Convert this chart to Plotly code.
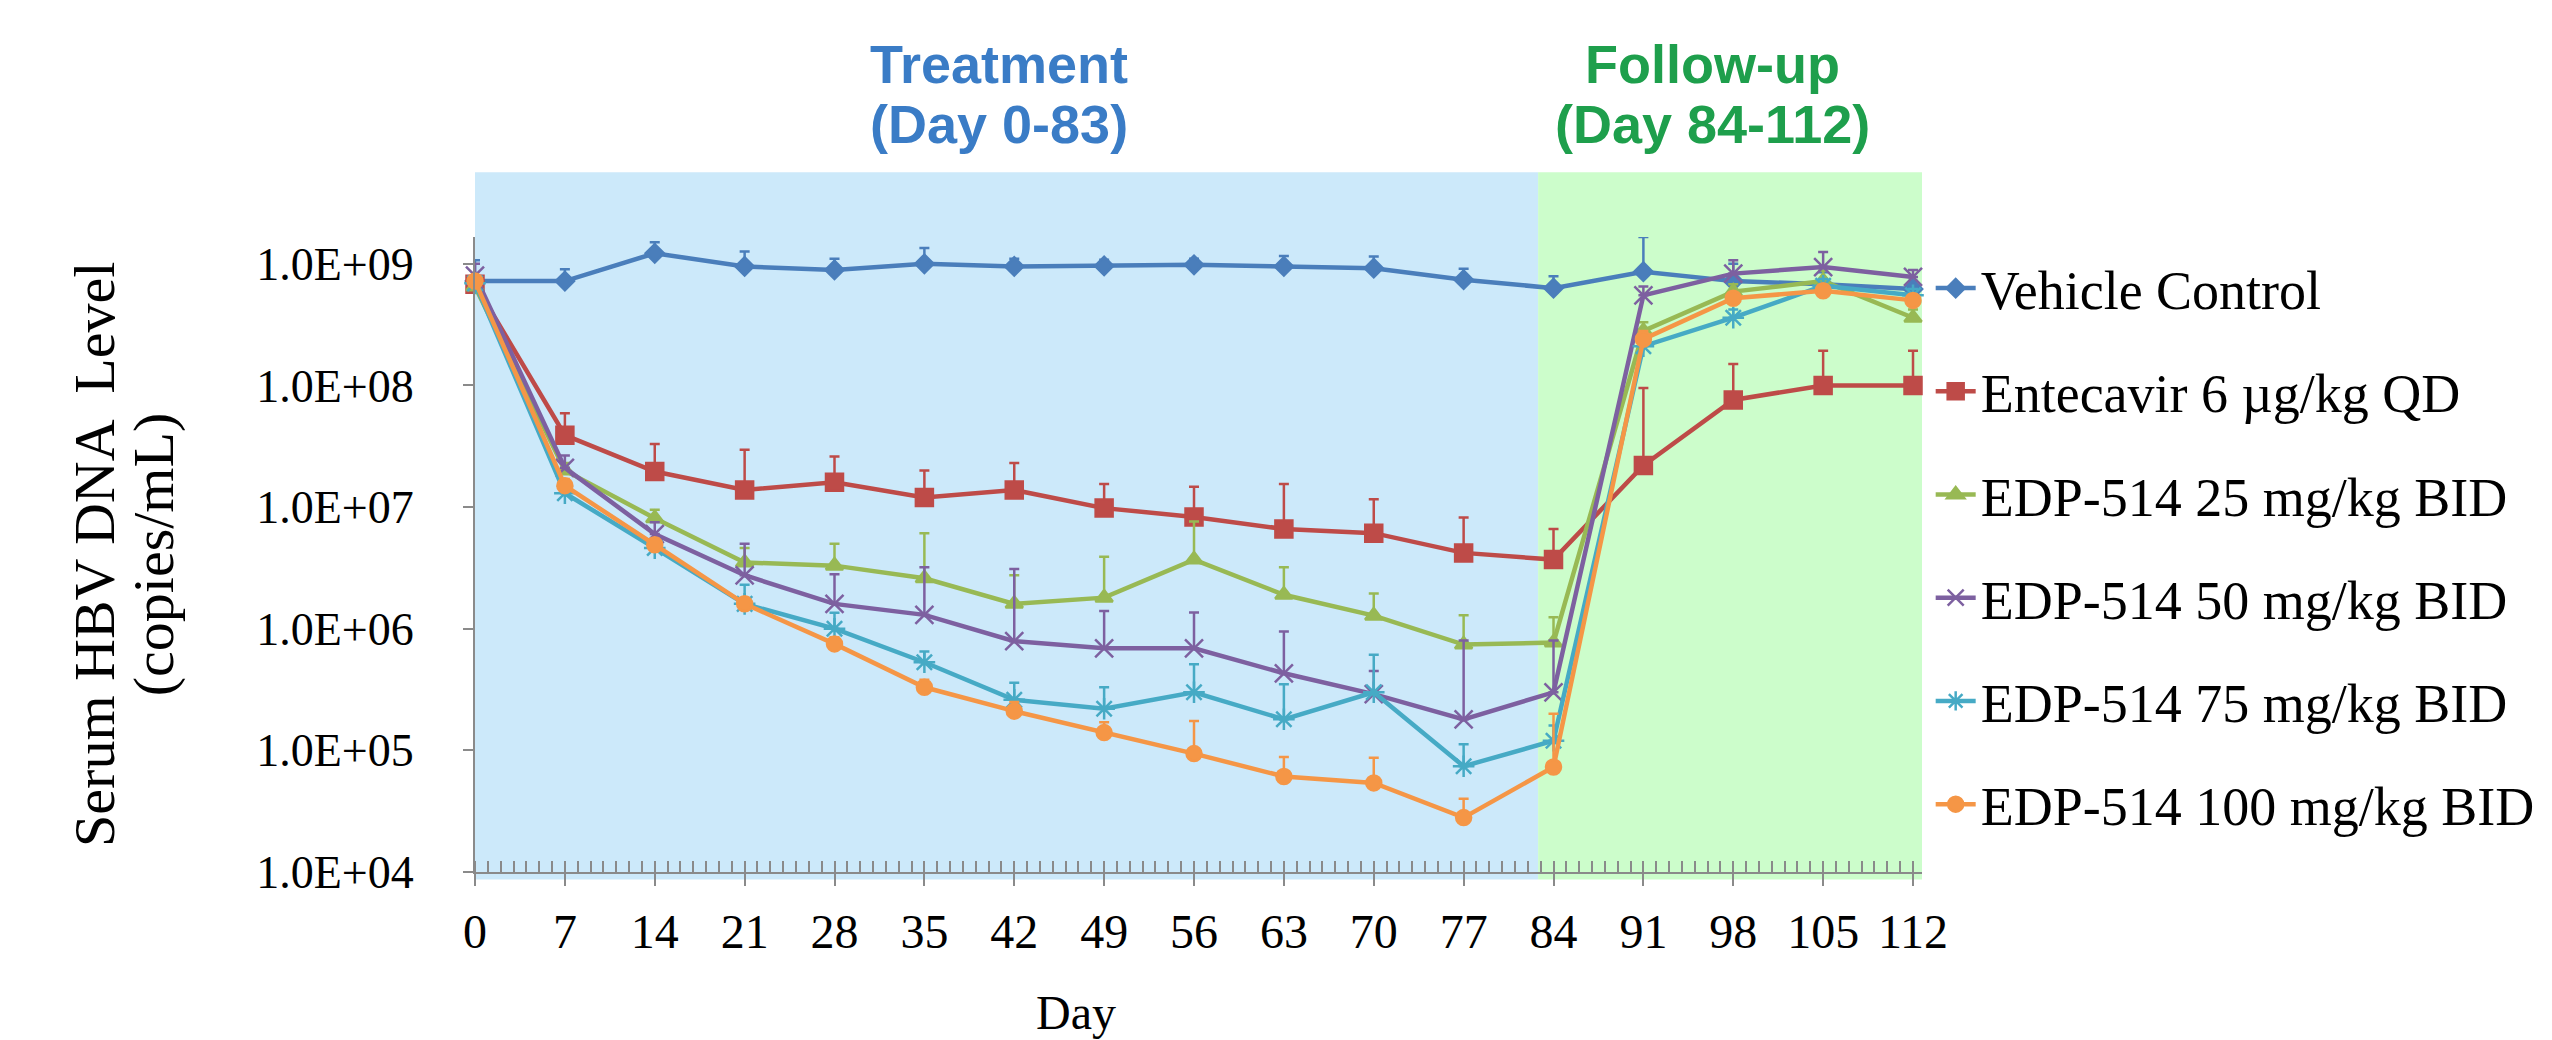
import plotly.graph_objects as go

days = [0, 7, 14, 21, 28, 35, 42, 49, 56, 63, 70, 77, 84, 91, 98, 105, 112]

series_names = [
    "Vehicle Control",
    "Entecavir 6 µg/kg QD",
    "EDP-514 25 mg/kg BID",
    "EDP-514 50 mg/kg BID",
    "EDP-514 75 mg/kg BID",
    "EDP-514 100 mg/kg BID",
]

# mean serum HBV DNA (copies/mL)
vehicle = [7.2e8, 7.2e8, 1.22e9, 9.5e8, 8.9e8, 1.0e9, 9.5e8, 9.6e8, 9.8e8, 9.5e8, 9.2e8, 7.4e8, 6.3e8, 8.6e8, 7.2e8, 6.8e8, 6.2e8]
entecavir = [6.8e8, 3.9e7, 1.96e7, 1.38e7, 1.6e7, 1.2e7, 1.38e7, 9.8e6, 8.3e6, 6.6e6, 6.1e6, 4.2e6, 3.7e6, 2.2e7, 7.6e7, 1.0e8, 1.0e8]
edp25 = [6.5e8, 2.0e7, 8.1e6, 3.5e6, 3.3e6, 2.6e6, 1.6e6, 1.8e6, 3.7e6, 1.9e6, 1.28e6, 7.4e5, 7.7e5, 2.8e8, 5.9e8, 7.2e8, 3.6e8]
edp50 = [8.0e8, 2.1e7, 6.0e6, 2.75e6, 1.6e6, 1.3e6, 7.9e5, 6.9e5, 6.9e5, 4.3e5, 2.9e5, 1.8e5, 3.0e5, 5.5e8, 8.3e8, 9.4e8, 7.8e8]
edp75 = [6.9e8, 1.3e7, 4.6e6, 1.6e6, 1.0e6, 5.3e5, 2.6e5, 2.2e5, 3.0e5, 1.8e5, 3.0e5, 7.4e4, 1.2e5, 2.1e8, 3.6e8, 6.6e8, 5.5e8]
edp100 = [7.2e8, 1.5e7, 4.9e6, 1.6e6, 7.5e5, 3.3e5, 2.1e5, 1.4e5, 9.4e4, 6.1e4, 5.4e4, 2.8e4, 7.3e4, 2.4e8, 5.2e8, 6.0e8, 5.0e8]

# top of the (upper only) error bars
vehicle_upper = [1.07e9, 9.0e8, 1.5e9, 1.26e9, 1.1e9, 1.35e9, 1.1e9, 1.08e9, 1.1e9, 1.16e9, 1.15e9, 9.1e8, 7.9e8, 1.66e9, 1.0e9, 8.5e8, 7.2e8]
entecavir_upper = [8.0e8, 5.9e7, 3.3e7, 2.96e7, 2.6e7, 2.0e7, 2.3e7, 1.55e7, 1.47e7, 1.55e7, 1.16e7, 8.2e6, 6.6e6, 9.5e7, 1.5e8, 1.93e8, 1.93e8]
edp25_upper = [7.5e8, 2.3e7, 9.5e6, 4.6e6, 5.0e6, 6.1e6, 2.75e6, 3.9e6, 7.6e6, 3.2e6, 1.95e6, 1.29e6, 1.24e6, 3.3e8, 6.8e8, 8.8e8, 4.2e8]
edp50_upper = [1.0e9, 2.65e7, 7.5e6, 5.0e6, 2.8e6, 3.2e6, 3.1e6, 1.4e6, 1.36e6, 9.5e5, 4.5e5, 8.0e5, 8.0e5, 6.5e8, 1.07e9, 1.25e9, 8.9e8]
edp75_upper = [7.8e8, 1.5e7, 5.2e6, 2.3e6, 1.35e6, 6.5e5, 3.6e5, 3.3e5, 5.1e5, 3.5e5, 6.1e5, 1.12e5, 1.6e5, 2.5e8, 4.2e8, 7.5e8, 6.2e8]
edp100_upper = [8.0e8, 1.7e7, 5.5e6, 1.8e6, 8.5e5, 3.8e5, 2.5e5, 1.7e5, 1.74e5, 8.8e4, 8.7e4, 4.0e4, 2.0e5, 2.8e8, 5.8e8, 6.6e8, 5.6e8]

ytick_vals = [1e4, 1e5, 1e6, 1e7, 1e8, 1e9]
ytick_text = ["1.0E+04", "1.0E+05", "1.0E+06", "1.0E+07", "1.0E+08", "1.0E+09"]

treatment_days = [0, 82.8]
followup_days = [82.8, 112.7]

colors = ["#4A7EBB", "#BE4B48", "#98B954", "#7D60A0", "#46AAC5", "#F59646"]
symbols = ["diamond", "square", "triangle-up", "x-thin-open", "asterisk-open", "circle"]
sizes = [14, 17, 15, 18, 18, 15]

means = [vehicle, entecavir, edp25, edp50, edp75, edp100]
uppers = [vehicle_upper, entecavir_upper, edp25_upper, edp50_upper, edp75_upper, edp100_upper]

serif = "Liberation Serif, Times New Roman, serif"
sans = "Liberation Sans, Arial, sans-serif"

fig = go.Figure()

for i, name in enumerate(series_names):
    plus = [u - m for u, m in zip(uppers[i], means[i])]
    fig.add_trace(go.Scatter(
        x=days, y=means[i], name=name, mode="lines+markers",
        legendgroup=str(i),
        line=dict(color=colors[i], width=4.5),
        marker=dict(symbol=symbols[i], size=sizes[i], color=colors[i],
                    line=dict(color=colors[i], width=2.5)),
        error_y=dict(type="data", symmetric=False, array=plus,
                     arrayminus=[0] * len(plus), color=colors[i],
                     thickness=2.5, width=5),
        cliponaxis=False,
    ))

# phase shading
fig.add_shape(type="rect", xref="x", yref="paper", layer="below",
              x0=treatment_days[0], x1=treatment_days[1], y0=-0.012, y1=1.102,
              fillcolor="#CCE9FA", line_width=0)
fig.add_shape(type="rect", xref="x", yref="paper", layer="below",
              x0=followup_days[0], x1=followup_days[1], y0=-0.012, y1=1.102,
              fillcolor="#CCFDCB", line_width=0)

# phase labels, one line each
phase_font_blue = dict(family=sans, size=54, color="#3A7CC6")
phase_font_green = dict(family=sans, size=54, color="#1E9F4C")
fig.add_annotation(text="<b>Treatment</b>", x=40.8, y=1.272, xref="x", yref="paper",
                   showarrow=False, yanchor="middle", font=phase_font_blue)
fig.add_annotation(text="<b>(Day 0-83)</b>", x=40.8, y=1.178, xref="x", yref="paper",
                   showarrow=False, yanchor="middle", font=phase_font_blue)
fig.add_annotation(text="<b>Follow-up</b>", x=96.4, y=1.272, xref="x", yref="paper",
                   showarrow=False, yanchor="middle", font=phase_font_green)
fig.add_annotation(text="<b>(Day 84-112)</b>", x=96.4, y=1.178, xref="x", yref="paper",
                   showarrow=False, yanchor="middle", font=phase_font_green)

# y axis title, two lines
fig.add_annotation(text="Serum HBV DNA  Level", x=-0.263, y=0.5,
                   xref="paper", yref="paper", showarrow=False, textangle=-90,
                   xanchor="center", yanchor="middle",
                   font=dict(family=serif, size=58, color="black"))
fig.add_annotation(text="(copies/mL)", x=-0.222, y=0.5,
                   xref="paper", yref="paper", showarrow=False, textangle=-90,
                   xanchor="center", yanchor="middle",
                   font=dict(family=serif, size=58, color="black"))
fig.add_annotation(text="Day", x=0.415, y=-0.222, xref="paper", yref="paper",
                   showarrow=False, xanchor="center", yanchor="middle",
                   font=dict(family=serif, size=48, color="black"))

fig.update_xaxes(
    range=[0, 112.7], tickmode="linear", tick0=0, dtick=7,
    showgrid=False, zeroline=False,
    showline=True, linecolor="#8A8A8A", linewidth=2,
    ticks="outside", ticklen=12, tickwidth=2, tickcolor="#8A8A8A",
    ticklabelstandoff=4,
    minor=dict(dtick=1, ticks="inside", ticklen=11, tickwidth=2, tickcolor="#8A8A8A", showgrid=False),
    tickfont=dict(family=serif, size=48, color="black"),
)
fig.update_yaxes(
    type="log", range=[4, 9.22], tickmode="array",
    tickvals=ytick_vals, ticktext=ytick_text,
    showgrid=False, zeroline=False,
    showline=True, linecolor="#8A8A8A", linewidth=2,
    ticks="outside", ticklen=10, tickwidth=2, tickcolor="#8A8A8A",
    ticklabelstandoff=40,
    tickfont=dict(family=serif, size=46, color="black"),
)

fig.update_layout(
    width=2552, height=1040,
    margin=dict(l=467, r=638, t=229, b=176),
    plot_bgcolor="white", paper_bgcolor="white",
    legend=dict(x=1.006, y=0.985, xanchor="left", yanchor="top",
                font=dict(family=serif, size=54, color="black"),
                tracegroupgap=30, itemwidth=40, bgcolor="rgba(0,0,0,0)"),
    showlegend=True,
)

fig.write_html("out.html")
